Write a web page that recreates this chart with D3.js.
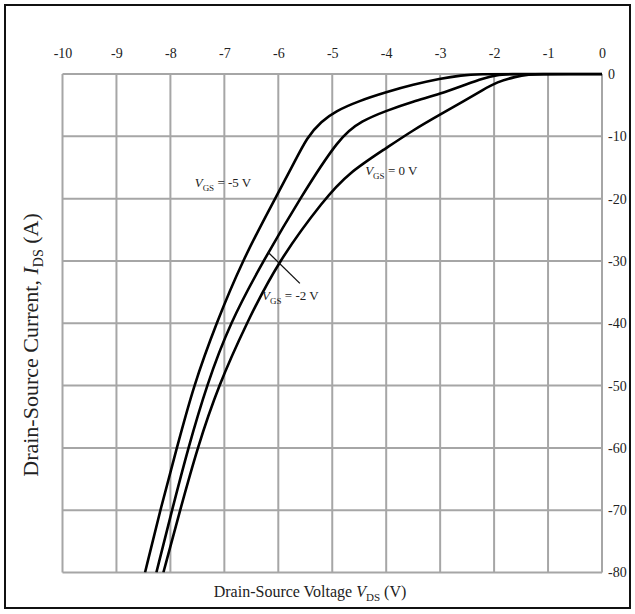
<!DOCTYPE html>
<html>
<head>
<meta charset="utf-8">
<script src="https://cdn.jsdelivr.net/npm/d3@7"></script>
<style>
  html, body { margin: 0; padding: 0; background: #fff; }
  svg { display: block; }
  text { font-family: "Liberation Serif", "Times New Roman", serif; fill: #222; }
</style>
</head>
<body>
<svg id="chart" width="635" height="614"></svg>
<script>
// ---- data ----
const xTicks = [-10, -9, -8, -7, -6, -5, -4, -3, -2, -1, 0];
const yTicks = [0, -10, -20, -30, -40, -50, -60, -70, -80];

// V_GS = -5 V
const vgsM5_V = [-8.47, -8.19, -7.88, -7.57, -7.15, -6.67, -6.06, -5.75, -5.46, -5.2, -4.95, -4.5, -4.0, -3.5, -3.0, -2.6, -2.3, -1.5, 0];
const vgsM5_I = [-80, -70, -60, -50, -40, -30, -20, -15, -10, -7.6, -6.0, -4.3, -2.9, -1.7, -0.75, -0.2, 0, 0, 0];
// V_GS = -2 V
const vgsM2_V = [-8.26, -7.97, -7.67, -7.33, -6.9, -6.28, -5.6, -4.86, -4.45, -4.0, -3.5, -3.0, -2.5, -2.2, -1.95, -1.75, -1.0, 0];
const vgsM2_I = [-80, -70, -60, -50, -40, -30, -20, -10, -7.5, -5.9, -4.4, -3.2, -1.6, -0.7, -0.15, 0, 0, 0];
// V_GS = 0 V
const vgs0_V = [-8.13, -7.82, -7.5, -7.11, -6.59, -6.0, -5.14, -4.7, -4.0, -3.5, -3.0, -2.57, -2.2, -1.95, -1.6, -1.35, -1.15, -0.6, 0];
const vgs0_I = [-80, -70, -60, -50, -40, -30, -20, -15.9, -11.9, -9.0, -6.5, -4.4, -2.5, -1.3, -0.4, -0.1, 0, 0, 0];

const seriesNames = ["-5", "-2", "0"];
// label anchors (data coords), one per series, and leader line for V_GS = -2 V
const labelV = [-7.55, -6.3, -4.39];
const labelI = [-18.1, -36.3, -16.2];
const leaderV = [-6.19, -5.6];
const leaderI = [-28.6, -33.6];

// ---- drawing ----
const svg = d3.select("#chart");
const x = d3.scaleLinear().domain([-10, 0]).range([62.5, 602]);
const y = d3.scaleLinear().domain([0, -80]).range([74, 572.5]);

// outer frame
svg.append("rect").attr("x", 5).attr("y", 5).attr("width", 625).attr("height", 603)
  .attr("fill", "none").attr("stroke", "#111").attr("stroke-width", 2);

// grid
const grid = svg.append("g").attr("stroke", "#a6a6a6").attr("stroke-width", 2);
grid.selectAll("line.v").data(xTicks).join("line").attr("class", "v")
  .attr("x1", d => x(d)).attr("x2", d => x(d)).attr("y1", y(0)).attr("y2", y(-80));
grid.selectAll("line.h").data(yTicks).join("line").attr("class", "h")
  .attr("x1", x(-10)).attr("x2", x(0)).attr("y1", d => y(d)).attr("y2", d => y(d));

// axes (labels only)
const topAxis = d3.axisTop(x).tickValues(xTicks).tickSize(0).tickPadding(16).tickFormat(d => String(d));
const gTop = svg.append("g").attr("transform", `translate(0,${y(0)})`).call(topAxis);
gTop.select(".domain").remove();
gTop.selectAll("text").attr("font-size", 14).attr("font-family", "Liberation Serif").attr("fill", "#222");

const rightAxis = d3.axisRight(y).tickValues(yTicks).tickSize(0).tickPadding(6).tickFormat(d => String(d));
const gRight = svg.append("g").attr("transform", `translate(${x(0)},0)`).call(rightAxis);
gRight.select(".domain").remove();
gRight.selectAll("text").attr("font-size", 14).attr("font-family", "Liberation Serif").attr("fill", "#222");

// curves
const series = [
  d3.zip(vgsM5_V, vgsM5_I),
  d3.zip(vgsM2_V, vgsM2_I),
  d3.zip(vgs0_V, vgs0_I)
];
const line = d3.line().x(d => x(d[0])).y(d => y(d[1])).curve(d3.curveBasis);
svg.append("defs").append("clipPath").attr("id", "clip").append("rect")
  .attr("x", x(-10)).attr("y", y(0) - 1.5).attr("width", x(0) - x(-10) + 1).attr("height", y(-80) - y(0) + 1.5);
svg.append("g").attr("clip-path", "url(#clip)").selectAll("path").data(series).join("path")
  .attr("d", line).attr("fill", "none").attr("stroke", "#000").attr("stroke-width", 2.6);

// leader line
svg.append("line")
  .attr("x1", x(leaderV[0])).attr("y1", y(leaderI[0]))
  .attr("x2", x(leaderV[1])).attr("y2", y(leaderI[1]))
  .attr("stroke", "#111").attr("stroke-width", 1.3);

// curve labels
seriesNames.forEach((n, i) => {
  const t = svg.append("text").attr("x", x(labelV[i])).attr("y", y(labelI[i]))
    .attr("font-size", 13);
  t.append("tspan").attr("font-style", "italic").text("V");
  t.append("tspan").attr("font-size", 9).attr("dy", 4).text("GS");
  t.append("tspan").attr("dy", -4).text(" = " + n + " V");
});

// x title
const xt = svg.append("text").attr("x", 310).attr("y", 597).attr("text-anchor", "middle").attr("font-size", 16);
xt.append("tspan").text("Drain-Source Voltage ");
xt.append("tspan").attr("font-style", "italic").text("V");
xt.append("tspan").attr("font-size", 11).attr("dy", 4).text("DS");
xt.append("tspan").attr("dy", -4).text(" (V)");

// y title
const yt = svg.append("text").attr("transform", "translate(38,345) rotate(-90)")
  .attr("text-anchor", "middle").attr("font-size", 22);
yt.append("tspan").text("Drain-Source Current,  ");
yt.append("tspan").attr("font-style", "italic").text("I");
yt.append("tspan").attr("font-size", 14).attr("dy", 5).text("DS");
yt.append("tspan").attr("dy", -5).text(" (A)");
</script>
</body>
</html>
